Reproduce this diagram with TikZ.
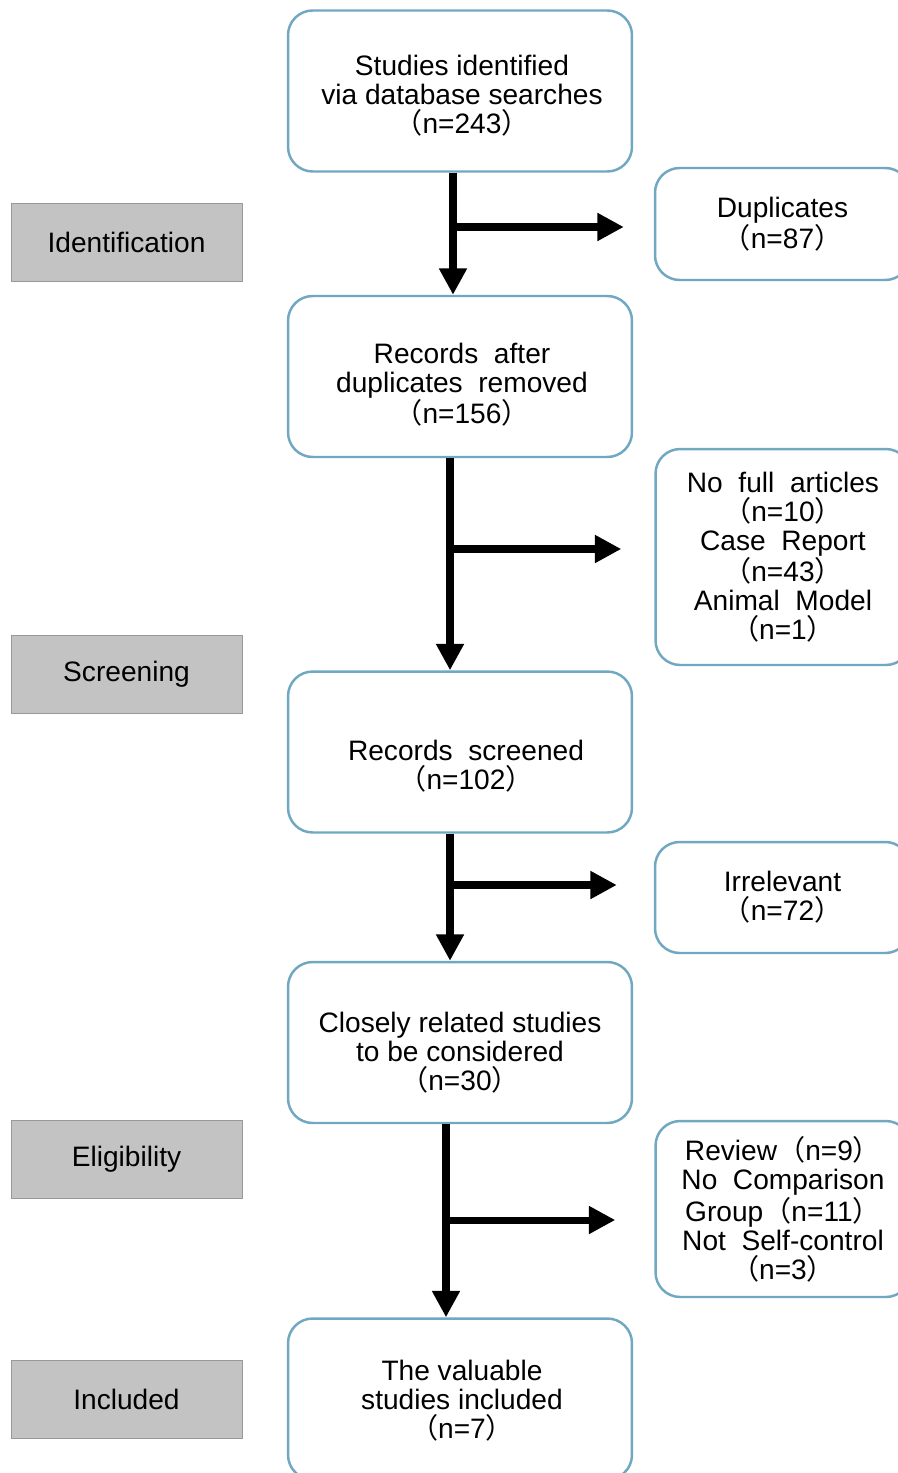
\documentclass[tikz,border=0pt]{standalone}
\usepackage{fontspec}
\setmainfont{Liberation Sans}
\newfontfamily\cjk{Noto Sans CJK SC}
\usepackage{xcolor}
\usepackage{tikz}
\usetikzlibrary{arrows.meta}
\usetikzlibrary{calc}

\definecolor{boxblue}{RGB}{112,168,194}
\definecolor{stagegray}{RGB}{195,195,195}
\newcommand{\fwl}{{\cjk （}}
\newcommand{\fwr}{{\cjk ）}}

\begin{document}
\begin{tikzpicture}[x=0.02cm, y=-0.02cm,
    flowbox/.style={draw=boxblue, line width=1.4pt, rounded corners=14pt, fill=white,
      align=center, font=\fontsize{16}{16.5}\selectfont, inner sep=2pt},
    mainbox/.style={flowbox, minimum width=6.88cm, minimum height=3.22cm},
    sidebox/.style={flowbox, minimum width=5.1cm},
    boxtext/.style={align=center, font=\fontsize{16}{16.5}\selectfont, inner sep=0pt},
    stagebox/.style={draw=gray!80, fill=stagegray, minimum width=4.62cm, minimum height=1.56cm,
      font=\fontsize{16}{16.5}\selectfont},
    flow/.style={line width=4pt, -{Triangle[length=15pt,width=15pt]}}
  ]
  \clip (0,0) rectangle (898,1473);
  \fill[white] (0,0) rectangle (898,1473);

  % stages
  \node[stagebox] (ident) at (126.5,242)  {Identification};
  \node[stagebox] (screen) at (126.5,674) {Screening};
  \node[stagebox] (elig) at (126.5,1159)  {Eligibility};
  \node[stagebox] (incl) at (126.5,1399)  {Included};

  % main column
  \node[mainbox] (found) at (460,91)      {};
  \node[mainbox] (nodup) at (460,376.5)   {};
  \node[mainbox] (scrn) at (460,752)      {};
  \node[mainbox] (close) at (460,1042.5)  {};
  \node[mainbox] (valid) at (460,1399)    {};
  \node[boxtext] (found-t) at ($(found)+(2,5)$)  {Studies identified\\via database searches\\\fwl n=243\fwr};
  \node[boxtext] (nodup-t) at ($(nodup)+(2,8)$)  {Records\ \ after\\duplicates\ \ removed\\\fwl n=156\fwr};
  \node[boxtext] (scrn-t) at ($(scrn)+(6,14)$)   {Records\ \ screened\\\fwl n=102\fwr};
  \node[boxtext] (close-t) at ($(close)+(0,10)$) {Closely related studies\\to be considered\\\fwl n=30\fwr};
  \node[boxtext] (valid-t) at ($(valid)+(2,2)$)  {The valuable\\studies included\\\fwl n=7\fwr};

  % excluded
  \node[sidebox, minimum height=2.24cm] (dup) at (782.5,224)  {Duplicates\\\fwl n=87\fwr};
  \node[sidebox, minimum height=4.32cm] (nofull) at (783,557) {No\ \ full\ \ articles\\\fwl n=10\fwr\\Case\ \ Report\\\fwl n=43\fwr\\Animal\ \ Model\\\fwl n=1\fwr};
  \node[sidebox, minimum height=2.22cm] (irr) at (782.5,897.5) {Irrelevant\\\fwl n=72\fwr};
  \node[sidebox, minimum height=3.52cm] (rev) at (783,1209)   {Review\fwl n=9\fwr\\No\ \ Comparison\\Group\fwl n=11\fwr\\Not\ \ Self-control\\\fwl n=3\fwr};

  % branch points
  \coordinate (j1) at (453,227);
  \coordinate (j2) at (450,549);
  \coordinate (j3) at (450,885);
  \coordinate (j4) at (446,1220);

  \draw[flow] (j1 |- found.south) -- (j1 |- nodup.north);
  \draw[flow] (j1) -- ($(dup.west)+(-30,3)$);
  \draw[flow] (j2 |- nodup.south) -- (j2 |- scrn.north);
  \draw[flow] (j2) -- ($(nofull.west)+(-33,-8)$);
  \draw[flow] (j3 |- scrn.south) -- (j3 |- close.north);
  \draw[flow] (j3) -- ($(irr.west)+(-37,-12.5)$);
  \draw[flow] (j4 |- close.south) -- (j4 |- valid.north);
  \draw[flow] (j4) -- ($(rev.west)+(-39,11)$);
\end{tikzpicture}
\end{document}
